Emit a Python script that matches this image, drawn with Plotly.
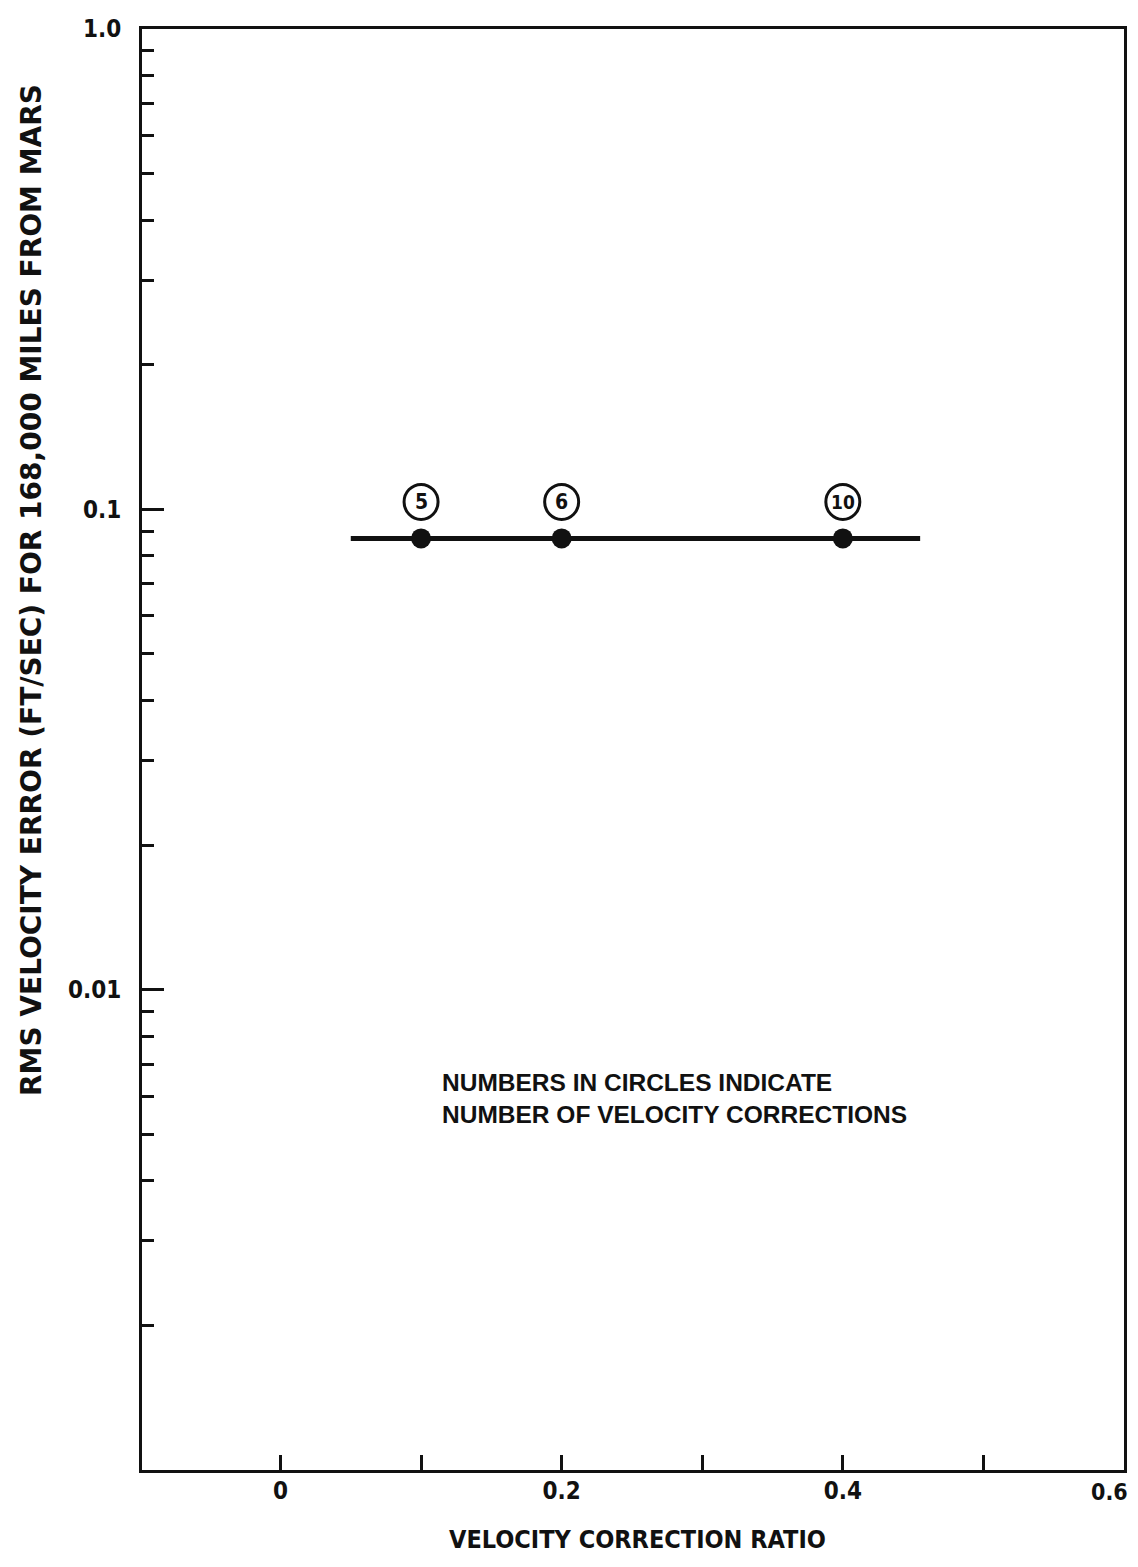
import math
import plotly.graph_objects as go

# ---- data ----
line_x = [0.05, 0.455]
line_y = [0.087, 0.087]
point_x = [0.1, 0.2, 0.4]
point_y = [0.087, 0.087, 0.087]
point_labels = ["5", "6", "10"]

x_tick_vals = [0, 0.2, 0.4, 0.6]
x_tick_text = ["0", "0.2", "0.4", ""]   # the edge label "0.6" is drawn below as an annotation
x_edge_val = 0.6
x_edge_text = "0.6"
x_minor_vals = [0.1, 0.3, 0.5]
y_tick_vals = [0.01, 0.1, 1.0]
y_tick_text = ["0.01", "0.1", "1.0"]
y_minor_vals = [m * d for d in (0.001, 0.01, 0.1) for m in range(2, 10)]

x_title = "VELOCITY CORRECTION RATIO"
y_title = "RMS VELOCITY ERROR (FT/SEC) FOR 168,000 MILES FROM MARS"
note_text = "NUMBERS IN CIRCLES INDICATE<br>NUMBER OF VELOCITY CORRECTIONS"

# ---- styles ----
INK = "#111111"
NARROW = "DejaVu Sans Condensed, Liberation Sans, sans-serif"
WIDE = "Liberation Sans, sans-serif"
DEJAVU = "DejaVu Sans, sans-serif"

fig = go.Figure()
fig.add_trace(go.Scatter(x=line_x, y=line_y, mode="lines",
                         line=dict(color=INK, width=5), showlegend=False, hoverinfo="skip"))
fig.add_trace(go.Scatter(x=point_x, y=point_y, mode="markers",
                         marker=dict(color=INK, size=20), showlegend=False))

# circled labels above points
for xv, yv, lab in zip(point_x, point_y, point_labels):
    fig.add_shape(type="circle", xref="x", yref="y",
                  xsizemode="pixel", ysizemode="pixel",
                  xanchor=xv, yanchor=yv,
                  x0=-17, x1=17, y0=19, y1=54,
                  line=dict(color=INK, width=3))
    fig.add_annotation(x=xv, y=math.log10(yv), xref="x", yref="y",
                       text="<b>%s</b>" % lab, showarrow=False, yshift=36,
                       font=dict(family=NARROW, size=21 if len(lab) == 1 else 19, color=INK))

fig.add_annotation(text=note_text, xref="paper", yref="paper", x=0.3035, y=0.2575,
                   xanchor="left", yanchor="middle", align="left", showarrow=False,
                   font=dict(family=WIDE, size=24.5, color=INK, weight="bold"))

fig.add_annotation(text=y_title, xref="paper", yref="paper", x=-0.112, y=0.6107,
                   textangle=-90, xanchor="center", yanchor="middle", showarrow=False,
                   font=dict(family=DEJAVU, size=28, color=INK, weight="bold"))

fig.add_annotation(text="<b>%s</b>" % x_title, xref="paper", yref="paper", x=0.5046, y=-0.0479,
                   xanchor="center", yanchor="middle", showarrow=False,
                   font=dict(family=NARROW, size=25, color=INK))

fig.add_annotation(text="<b>%s</b>" % x_edge_text, xref="x", x=x_edge_val, yref="paper", y=0,
                   xanchor="right", yanchor="middle", xshift=6, yshift=-22, showarrow=False,
                   font=dict(family=NARROW, size=23, color=INK))

fig.update_xaxes(range=[-0.0985, 0.6], tickvals=x_tick_vals, ticktext=x_tick_text,
                 ticks="inside", ticklen=15, tickwidth=3, tickcolor=INK,
                 minor=dict(tickvals=x_minor_vals, ticks="inside", ticklen=15, tickwidth=3, tickcolor=INK),
                 showline=True, linewidth=3, linecolor=INK, mirror=True,
                 showgrid=False, zeroline=False, ticklabelstandoff=-3,
                 automargin=False,
                 tickfont=dict(family=NARROW, size=24, color=INK, weight="bold"))
fig.update_yaxes(type="log", range=[-3, 0], tickvals=y_tick_vals, ticktext=y_tick_text,
                 ticks="inside", ticklen=22, tickwidth=3, tickcolor=INK,
                 minor=dict(tickvals=y_minor_vals, ticks="inside", ticklen=12, tickwidth=3, tickcolor=INK),
                 showline=True, linewidth=3, linecolor=INK, mirror=True,
                 showgrid=False, zeroline=False, ticklabelstandoff=13,
                 automargin=False,
                 tickfont=dict(family=NARROW, size=24, color=INK, weight="bold"))

fig.update_layout(width=1138, height=1567, margin=dict(l=134, r=22, t=21, b=105),
                  plot_bgcolor="white", paper_bgcolor="white", showlegend=False)

fig.write_html("out.html")
